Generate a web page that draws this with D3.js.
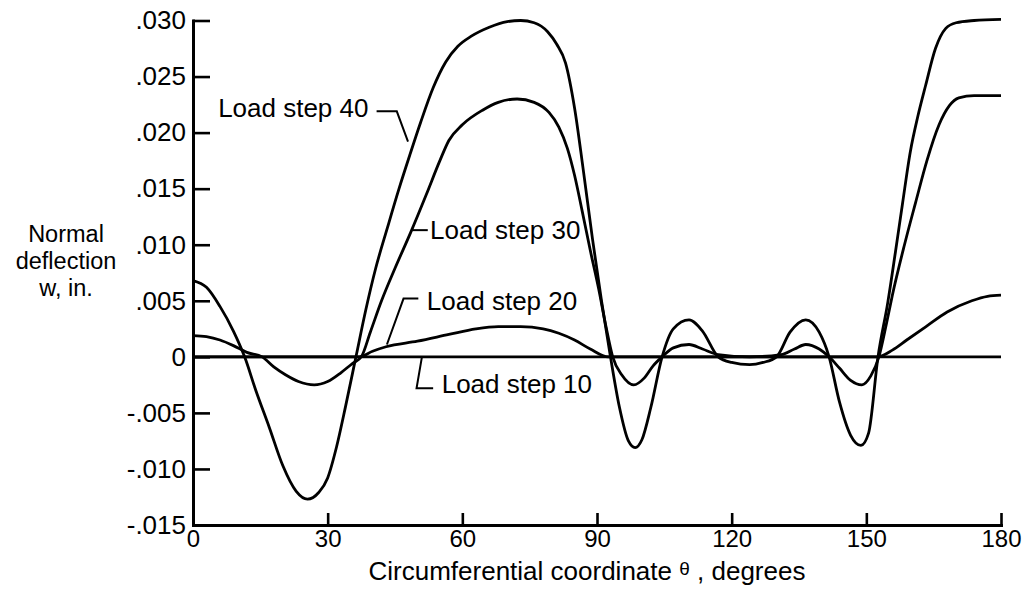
<!DOCTYPE html>
<html>
<head>
<meta charset="utf-8">
<script src="https://cdn.jsdelivr.net/npm/d3@7"></script>
<style>
  body { margin: 0; background: #fff; }
  svg text { font-family: "Liberation Sans", Arial, Helvetica, sans-serif; fill: #000; }
</style>
</head>
<body>
<svg id="chart" width="1027" height="591"></svg>
<script>
// Axis ticks
const xTicks = [0, 30, 60, 90, 120, 150, 180];
const yTicks = [-0.015, -0.010, -0.005, 0, 0.005, 0.010, 0.015, 0.020, 0.025, 0.030];

// Normal deflection w (in.) vs circumferential coordinate theta (deg), [theta, w]
const step10 = [[0, 0], [180, 0]];

const step20 = [
  [0, 0], [37, 0], [40, 0.0005], [43, 0.0009], [50, 0.0014], [57, 0.0020],
  [63, 0.0025], [68, 0.0027], [73, 0.0027], [78, 0.0025], [81.5, 0.0021],
  [85, 0.0015], [88.5, 0.0007], [92.5, 0], [152.5, 0], [155.8, 0.0006],
  [159, 0.0015], [163.3, 0.0027], [168, 0.0040], [173.5, 0.0050],
  [177, 0.0054], [180, 0.0055]
];

const step30 = [
  [0, 0.0019], [3, 0.0018], [6, 0.0015], [9, 0.0010], [12, 0.0004], [15.4, 0],
  [18, -0.0009], [20.6, -0.0016], [23.5, -0.0022], [27, -0.0025], [30, -0.0022],
  [33, -0.0014], [35.5, -0.0006], [37.5, 0], [39.5, 0.0022], [42, 0.0050],
  [45, 0.0079], [48.5, 0.0111], [52, 0.0145], [55, 0.0175], [57, 0.0193],
  [60, 0.0207], [64.5, 0.0220], [68, 0.0227], [72.2, 0.0230], [76, 0.0227],
  [79.3, 0.0218], [81.5, 0.0205], [83.4, 0.0186], [85, 0.0162], [86.7, 0.0130],
  [88.5, 0.0095], [90.4, 0.0060], [92, 0.0027], [93.5, 0], [95.5, -0.0016],
  [98.2, -0.0025], [100.5, -0.0019], [102.5, -0.0008], [104.5, 0], [107, 0.0008],
  [110.5, 0.0011], [113.5, 0.0007], [117, 0.0002], [124, 0], [131, 0.0002],
  [134, 0.0007], [136.5, 0.0011], [139.5, 0.0007], [141.7, 0], [144, -0.0010],
  [146.5, -0.0021], [149, -0.0025], [151, -0.0017], [152.8, 0], [154.5, 0.0030],
  [155.8, 0.0055], [158.5, 0.0100], [161, 0.0138], [163.5, 0.0175],
  [166.2, 0.0207], [168.5, 0.0224], [170.6, 0.0231], [174, 0.0233], [180, 0.0233]
];

const step40 = [
  [0, 0.0068], [3, 0.0062], [6, 0.0045], [9, 0.0023], [11.5, 0], [14, -0.0030],
  [17, -0.0063], [20, -0.0097], [23, -0.0120], [25.5, -0.0127], [28, -0.0121],
  [30, -0.0108], [32, -0.0080], [34, -0.0044], [36.3, 0], [38.5, 0.0042],
  [40.7, 0.0079], [43.3, 0.0115], [45.9, 0.0150], [48.3, 0.0180], [50.7, 0.0209],
  [53.5, 0.0240], [56.3, 0.0263], [59, 0.0277], [62, 0.0286], [66, 0.0294],
  [70, 0.0299], [73, 0.0300], [76, 0.0298], [79, 0.0290], [81, 0.0279],
  [83, 0.0262], [85, 0.0222], [87, 0.0165], [89, 0.0105], [91, 0.0050], [93, 0],
  [95, -0.0045], [97, -0.0075], [98.5, -0.0081], [100, -0.0074], [102, -0.0045],
  [104.5, 0], [107, 0.0025], [110.5, 0.0033], [113.5, 0.0023], [117, 0],
  [120, -0.0005], [124, -0.0007], [127, -0.0005], [130, 0], [133, 0.0022],
  [136.5, 0.0033], [139.5, 0.0022], [141.7, 0], [144, -0.0040], [146.5, -0.0070],
  [148.8, -0.0079], [150.5, -0.0068], [152.6, 0], [154.8, 0.0049], [156.5, 0.0094],
  [158, 0.0135], [159.8, 0.0183], [161.5, 0.0215], [163.2, 0.0242], [165.4, 0.0275],
  [167.7, 0.0293], [170, 0.0298], [174, 0.0300], [180, 0.0301]
];

const seriesList = [step10, step20, step30, step40];

// Curve labels with leader lines, placed in data units
const labels = [
  { text: "Load step 40", at: [5.6, 0.0214],  leader: [[40.9, 0.0219], [45.4, 0.0219], [47.9, 0.0192]] },
  { text: "Load step 30", at: [52.8, 0.0105], leader: [[48.7, 0.0113], [52.3, 0.0113]] },
  { text: "Load step 20", at: [52.1, 0.0042], leader: [[50.2, 0.0052], [46.9, 0.0052], [43.2, 0.0011]] },
  { text: "Load step 10", at: [55.4, -0.0032], leader: [[51.0, 0], [49.8, -0.0028], [53.5, -0.0028]] }
];

const svg = d3.select("#chart");

const x = d3.scaleLinear().domain([0, 180]).range([193, 1001]);
const y = d3.scaleLinear().domain([-0.015, 0.030]).range([525, 20.5]);

// ".030", "0", "-.005" style labels with a plain hyphen
const fmtY = d => {
  if (d === 0) return "0";
  const s = Math.abs(d).toFixed(3).replace(/^0\./, ".");
  return (d < 0 ? "-" : "") + s;
};

// Y axis: ticks point inward, labels on the left
const yAxis = svg.append("g")
  .attr("transform", `translate(${x(0)},0)`)
  .call(d3.axisLeft(y).tickValues(yTicks).tickSize(-17).tickSizeOuter(0)
    .tickPadding(7).tickFormat(fmtY));
yAxis.select(".domain").attr("stroke", "#000").attr("stroke-width", 3).attr("stroke-linecap", "square");
yAxis.selectAll(".tick line").attr("stroke", "#000").attr("stroke-width", 2.6);
yAxis.selectAll(".tick text").attr("font-size", 26).attr("fill", "#000");

// X axis
const xAxis = svg.append("g")
  .attr("transform", `translate(0,${y(-0.015)})`)
  .call(d3.axisBottom(x).tickValues(xTicks).tickSize(-12).tickSizeOuter(0)
    .tickPadding(5).tickFormat(d => String(d)));
xAxis.select(".domain").attr("stroke", "#000").attr("stroke-width", 3).attr("stroke-linecap", "square");
xAxis.selectAll(".tick line").attr("stroke", "#000").attr("stroke-width", 2.6);
xAxis.selectAll(".tick text").attr("font-size", 24).attr("fill", "#000");

// Curves
const line = d3.line()
  .x(d => x(d[0]))
  .y(d => y(d[1]))
  .curve(d3.curveMonotoneX);

svg.append("g")
  .selectAll("path")
  .data(seriesList)
  .join("path")
  .attr("d", line)
  .attr("fill", "none")
  .attr("stroke", "#000")
  .attr("stroke-width", 2.8)
  .attr("stroke-linejoin", "round");

// Labels and leaders
const leaderLine = d3.line().x(d => x(d[0])).y(d => y(d[1]));
const lab = svg.append("g");
labels.forEach(l => {
  lab.append("path")
    .attr("d", leaderLine(l.leader))
    .attr("fill", "none")
    .attr("stroke", "#000")
    .attr("stroke-width", 2);
  lab.append("text")
    .attr("x", x(l.at[0]))
    .attr("y", y(l.at[1]))
    .attr("font-size", 26)
    .text(l.text);
});

// Axis titles
const yTitleLines = ["Normal", "deflection", "w, in."];
svg.append("g")
  .selectAll("text")
  .data(yTitleLines)
  .join("text")
  .attr("x", 66)
  .attr("y", (d, i) => 242 + i * 27)
  .attr("text-anchor", "middle")
  .attr("font-size", 23.5)
  .text(d => d);

const xTitle = svg.append("text")
  .attr("x", 587)
  .attr("y", 580)
  .attr("text-anchor", "middle")
  .attr("font-size", 26);
xTitle.append("tspan").text("Circumferential coordinate ");
xTitle.append("tspan").attr("font-size", 19).attr("dy", -5).text("θ");
xTitle.append("tspan").attr("dy", 5).text(" , degrees");
</script>
</body>
</html>
